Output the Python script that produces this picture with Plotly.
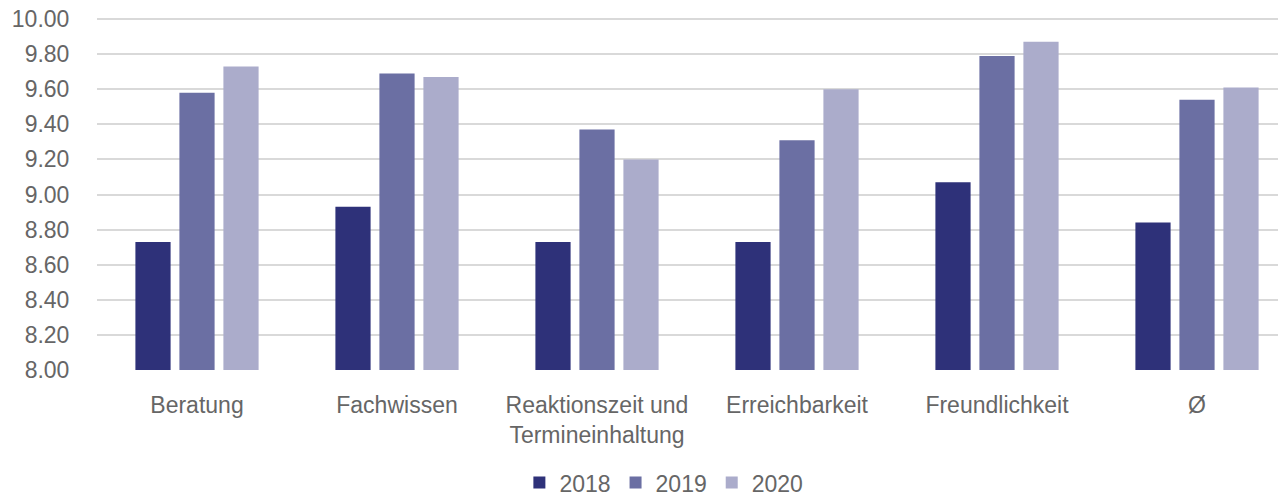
import plotly.graph_objects as go

categories = ["Beratung", "Fachwissen", "Reaktionszeit und<br>Termineinhaltung",
              "Erreichbarkeit", "Freundlichkeit", "Ø"]
years = ["2018", "2019", "2020"]
values_2018 = [8.73, 8.93, 8.73, 8.73, 9.07, 8.84]
values_2019 = [9.58, 9.69, 9.37, 9.31, 9.79, 9.54]
values_2020 = [9.73, 9.67, 9.20, 9.60, 9.87, 9.61]
colors = ["#2E3179", "#6B6FA3", "#ABACCB"]
y_ticks = [8.0, 8.2, 8.4, 8.6, 8.8, 9.0, 9.2, 9.4, 9.6, 9.8, 10.0]

FONT = "Liberation Sans"
TXT = "#666666"
FS = 23

fig = go.Figure()
for name, vals, col in zip(years, [values_2018, values_2019, values_2020], colors):
    fig.add_trace(go.Bar(
        x=categories, y=vals, name=name,
        marker=dict(color=col, line=dict(width=0)),
    ))

fig.update_layout(
    width=1278, height=498,
    margin=dict(l=97, r=0, t=18, b=128, autoexpand=False),
    paper_bgcolor="white", plot_bgcolor="white",
    barmode="group", bargap=0.34, bargroupgap=0.2,
    font=dict(family=FONT, size=FS, color=TXT),
    showlegend=True,
    legend=dict(orientation="h", x=0.48, xanchor="center", y=-0.259, yanchor="top",
                font=dict(family=FONT, size=FS, color=TXT),
                itemwidth=30, traceorder="normal"),
)
fig.update_xaxes(
    range=[-0.5, 5.405], showgrid=False, showline=False, zeroline=False,
    automargin=False,
    ticks="outside", ticklen=14, tickcolor="rgba(0,0,0,0)",
    tickfont=dict(family=FONT, size=FS, color=TXT),
)
fig.update_yaxes(
    range=[8.0, 10.006], tickvals=y_ticks, tickformat=".2f",
    showgrid=True, gridcolor="#D9D9D9", gridwidth=1.5,
    zeroline=False, showline=False, automargin=False,
    ticklabeloverflow="allow",
    ticks="outside", ticklen=22, tickcolor="rgba(0,0,0,0)",
    tickfont=dict(family=FONT, size=FS, color=TXT),
)

fig.write_html("out.html",
               config={"displayModeBar": False},
               post_script="document.body.style.margin='0px';document.body.style.overflow='hidden';")
